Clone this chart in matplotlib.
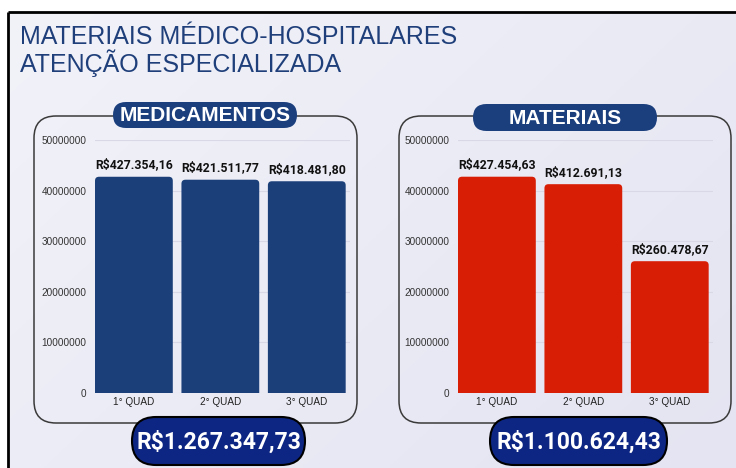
import numpy as np
import matplotlib.pyplot as plt
from matplotlib.patches import FancyBboxPatch

# valores por quadrimestre, em centavos (o eixo mostra os centavos)
quads = ['1° QUAD', '2° QUAD', '3° QUAD']
medicamentos = [42735416, 42151177, 41848180]
materiais = [42745463, 41269113, 26047867]
y_ticks = [0, 10000000, 20000000, 30000000, 40000000, 50000000]

azul = '#1B4079'
vermelho = '#D81E05'
azul_pill = '#1B3F7D'
azul_total = '#0E2683'

W, H = 736, 468
fig = plt.figure(figsize=(W / 100, H / 100), dpi=100)
fig.patch.set_facecolor('white')

# camada de fundo em pixels
bg = fig.add_axes([0, 0, 1, 1])
bg.set_xlim(0, W)
bg.set_ylim(H, 0)
bg.axis('off')

grad = np.linspace(0, 1, 200)
gx, gy = np.meshgrid(grad, grad)
t = (gx * 0.6 + gy * 0.4)
c0 = np.array([0xF2, 0xF2, 0xF9]) / 255
c1 = np.array([0xE4, 0xE4, 0xF2]) / 255
img = c0[None, None, :] * (1 - t[..., None]) + c1[None, None, :] * t[..., None]
bg.imshow(img, extent=(8, W, H, 12), aspect='auto', zorder=0)

# moldura do slide
bg.plot([8, W], [12, 12], color='black', lw=2, zorder=1, solid_capstyle='butt')
bg.plot([8, 8], [12, H], color='black', lw=2, zorder=1, solid_capstyle='butt')

fig.text(20 / W, 1 - 37 / H, 'MATERIAIS MÉDICO-HOSPITALARES',
         family='Liberation Sans', fontsize=18, color='#1F3F7A', va='center')
fig.text(20 / W, 1 - 63 / H, 'ATENÇÃO ESPECIALIZADA',
         family='Liberation Sans', fontsize=18, color='#1F3F7A', va='center')


def pill(x0, y0, x1, y1, face, edge='none', lw=0):
    r = (y1 - y0) / 2
    bg.add_patch(FancyBboxPatch((x0, y0), x1 - x0, y1 - y0,
                                boxstyle=f'round,pad=0,rounding_size={r}',
                                fc=face, ec=edge, lw=lw, zorder=3))


def painel(box, titulo_box, titulo, total_box, total, ax_rect, valores, cor):
    x0, y0, x1, y1 = box
    bg.add_patch(FancyBboxPatch((x0, y0), x1 - x0, y1 - y0,
                                boxstyle='round,pad=0,rounding_size=22',
                                fc='none', ec='#3A3A3A', lw=1.1, zorder=2))
    tx0, ty0, tx1, ty1 = titulo_box
    pill(tx0, ty0, tx1, ty1, azul_pill)
    bg.text((tx0 + tx1) / 2, (ty0 + ty1) / 2 + 0.5, titulo, color='white',
            family='Liberation Sans', fontweight='bold', fontsize=15,
            ha='center', va='center', zorder=4)
    sx0, sy0, sx1, sy1 = total_box
    pill(sx0, sy0, sx1, sy1, azul_total, edge='black', lw=1.5)
    bg.text((sx0 + sx1) / 2, (sy0 + sy1) / 2 + 1, total, color='white',
            family='Roboto', fontweight='bold', fontsize=16.5,
            ha='center', va='center', zorder=4)

    ax = fig.add_axes(ax_rect)
    ax.patch.set_alpha(0)
    x = np.arange(len(quads))
    bars = ax.bar(x, valores, width=0.9, color=cor, zorder=2)
    ax.set_xlim(-0.45, 2.5)
    ax.set_ylim(0, 50000000)
    # cantos superiores arredondados
    asp = (50000000 / (ax_rect[3] * H)) / (2.95 / (ax_rect[2] * W))
    for b in bars:
        b.set_visible(False)
        r = 4 / 86.5
        ax.add_patch(FancyBboxPatch((b.get_x(), -r * asp * 2), b.get_width(),
                                    b.get_height() + r * asp * 2,
                                    boxstyle=f'round,pad=0,rounding_size={r}',
                                    mutation_aspect=asp, fc=cor, ec='none',
                                    zorder=2, clip_on=True))
    for xi, v in zip(x, valores):
        reais = f'{v / 100:,.2f}'.replace(',', 'X').replace('.', ',').replace('X', '.')
        ax.annotate('R$' + reais, (xi, v), xytext=(0, 4), textcoords='offset points',
                    ha='center', va='bottom', family='Roboto', fontweight='bold',
                    fontsize=8.8, color='#111111')
    ax.set_yticks(y_ticks)
    ax.set_yticklabels([str(v) for v in y_ticks], family='Liberation Sans',
                       fontsize=7.2, color='#333333')
    ax.set_xticks(x)
    ax.set_xticklabels(quads, family='Liberation Sans', fontsize=7.2, color='#222222')
    ax.tick_params(length=0)
    ax.tick_params(axis='y', pad=6)
    ax.tick_params(axis='x', pad=3)
    ax.grid(axis='y', color='#D8D8E6', lw=0.8, zorder=0)
    for s in ax.spines.values():
        s.set_visible(False)
    return ax


painel((34, 116, 357, 423), (113, 102, 297, 128), 'MEDICAMENTOS',
       (132, 417, 305, 465), 'R$1.267.347,73',
       [95 / W, 1 - 393 / H, 255 / W, 253 / H], medicamentos, azul)
painel((399, 116, 731, 423), (473, 104, 657, 131), 'MATERIAIS',
       (490, 417, 667, 465), 'R$1.100.624,43',
       [458 / W, 1 - 393 / H, 255 / W, 253 / H], materiais, vermelho)

plt.savefig('out.png', dpi=100)
